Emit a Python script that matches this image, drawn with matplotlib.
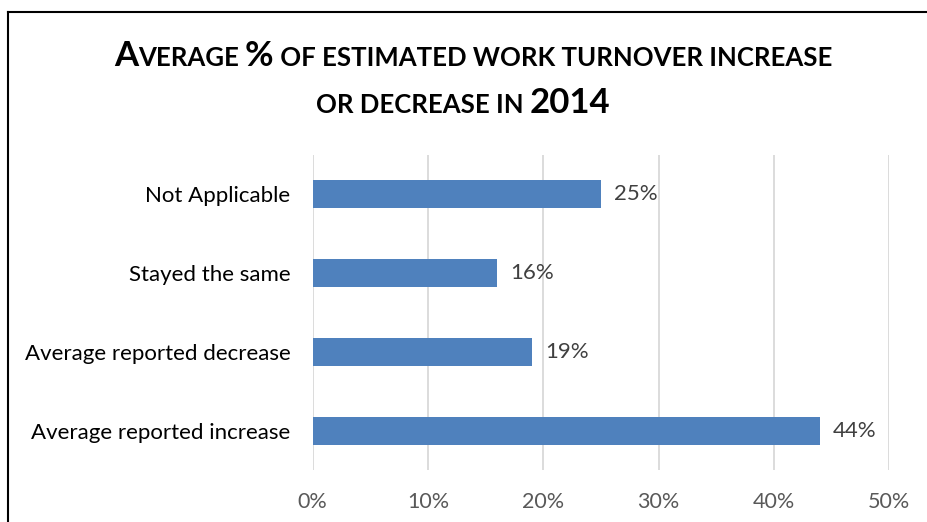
import matplotlib
matplotlib.use("Agg")
import matplotlib.pyplot as plt
from matplotlib.lines import Line2D
from matplotlib.ticker import FuncFormatter

categories = ["Average reported increase", "Average reported decrease",
              "Stayed the same", "Not Applicable"]
values = [44, 19, 16, 25]
xticks = [0, 10, 20, 30, 40, 50]

# title runs: (text, large-cap?) to fake small caps
title_lines = [
    [("A", True), ("VERAGE ", False), ("%", True),
     (" OF ESTIMATED WORK TURNOVER INCREASE", False)],
    [("OR DECREASE IN ", False), ("2014", True)],
]

FONT = "Lato"
BAR = "#4F81BD"
GRID = "#D9D9D9"
TXT = "#595959"

fig = plt.figure(figsize=(9.28, 5.22), dpi=100)
ax = fig.add_axes([312.7 / 928, 1 - 470 / 522, 576.5 / 928, 315 / 522])

ax.barh(range(len(categories)), values, height=0.355, color=BAR, zorder=3)
for i, v in enumerate(values):
    ax.annotate(f"{v}%", (v, i), xytext=(9.5, 0), textcoords="offset points",
                va="center", ha="left", fontsize=16, color="#404040", family=FONT)

ax.set_xlim(0, 50)
ax.set_ylim(-0.5, len(categories) - 0.5)
ax.set_xticks(xticks)
ax.xaxis.set_major_formatter(FuncFormatter(lambda x, _: f"{x:.0f}%"))
ax.set_yticks(range(len(categories)))
ax.set_yticklabels(categories)
ax.tick_params(axis="x", length=0, pad=16, labelsize=15.5, labelcolor=TXT)
ax.tick_params(axis="y", length=0, pad=16, labelsize=16, labelcolor="#000000")
for lab in ax.get_xticklabels() + ax.get_yticklabels():
    lab.set_family(FONT)
ax.grid(axis="x", color=GRID, lw=1.3, zorder=0)
for s in ax.spines.values():
    s.set_visible(False)

# small-caps title built from runs of two sizes
fig.canvas.draw()
r = fig.canvas.get_renderer()
big, small = 25, 18.5
for (runs, yc, xc) in zip(title_lines, [1 - 66 / 522, 1 - 113 / 522], [473, 463]):
    texts = []
    for s, is_big in runs:
        t = fig.text(0, yc, s, fontsize=big if is_big else small, fontweight="bold",
                     family=FONT, va="baseline", ha="left")
        texts.append(t)
    widths = [t.get_window_extent(r).width for t in texts]
    x = xc - sum(widths) / 2
    for t, w in zip(texts, widths):
        t.set_x(x / 928)
        x += w

# frame edges
fig.add_artist(Line2D([8 / 928, 8 / 928], [0, 1 - 12 / 522], color="black", lw=1.5,
                      transform=fig.transFigure))
fig.add_artist(Line2D([8 / 928, 1], [1 - 12 / 522, 1 - 12 / 522], color="black", lw=1.5,
                      transform=fig.transFigure))

fig.savefig("out.png", dpi=100)
